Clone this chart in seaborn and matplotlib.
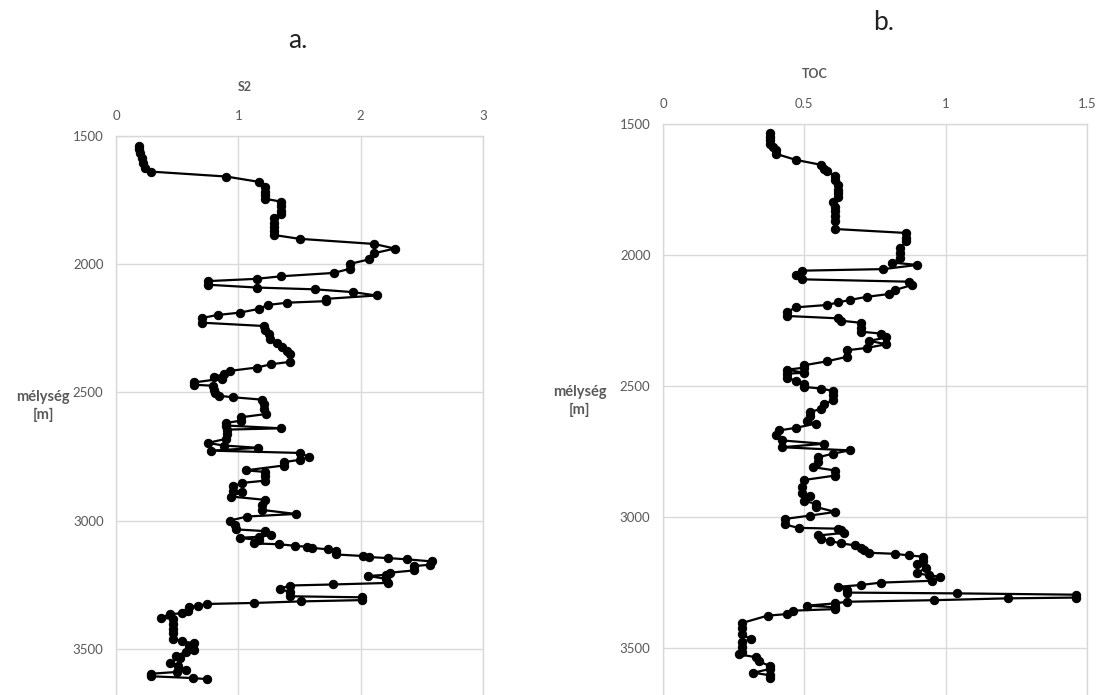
import matplotlib
matplotlib.use("Agg")
import matplotlib.pyplot as plt
import seaborn as sns
import pandas as pd

# ---- data ----
s2_depth = [1538, 1551, 1568, 1587, 1606, 1623, 1639, 1658, 1679, 1697, 1717, 1730, 1745,
            1756, 1773, 1791, 1805, 1821, 1838, 1853, 1870, 1886, 1901, 1921, 1939, 1957,
            1981, 1999, 2018, 2034, 2047, 2057, 2066, 2080, 2091, 2098, 2109, 2122, 2135,
            2144, 2150, 2159, 2174, 2189, 2198, 2210, 2228, 2241, 2256, 2273, 2293, 2306,
            2321, 2338, 2351, 2381, 2390, 2403, 2416, 2429, 2439, 2446, 2461, 2470, 2474,
            2490, 2502, 2513, 2519, 2528, 2545, 2565, 2584, 2597, 2610, 2619, 2629, 2640,
            2645, 2662, 2681, 2697, 2707, 2716, 2727, 2736, 2752, 2763, 2772, 2785, 2804,
            2810, 2827, 2844, 2853, 2866, 2883, 2888, 2906, 2919, 2938, 2958, 2974, 2984,
            3000, 3017, 3034, 3041, 3056, 3063, 3067, 3076, 3089, 3092, 3098, 3102, 3106,
            3112, 3119, 3132, 3138, 3142, 3146, 3151, 3159, 3172, 3177, 3194, 3203, 3211,
            3216, 3227, 3243, 3249, 3253, 3266, 3279, 3295, 3299, 3310, 3315, 3321, 3325,
            3332, 3338, 3352, 3361, 3365, 3378, 3384, 3404, 3421, 3437, 3461, 3470, 3479,
            3489, 3503, 3513, 3526, 3535, 3555, 3565, 3584, 3590, 3597, 3607, 3614, 3618]
s2_values = [0.19, 0.19, 0.20, 0.21, 0.22, 0.24, 0.29, 0.90, 1.17, 1.22, 1.22, 1.22, 1.22,
             1.35, 1.35, 1.35, 1.35, 1.29, 1.29, 1.29, 1.29, 1.29, 1.50, 2.11, 2.28, 2.11,
             2.07, 1.91, 1.91, 1.78, 1.35, 1.15, 0.75, 0.75, 1.15, 1.63, 1.94, 2.13, 1.72,
             1.72, 1.40, 1.24, 1.17, 1.01, 0.83, 0.70, 0.70, 1.21, 1.22, 1.25, 1.26, 1.32,
             1.36, 1.40, 1.42, 1.42, 1.27, 1.15, 0.93, 0.88, 0.80, 0.87, 0.64, 0.64, 0.79,
             0.80, 0.81, 0.84, 0.96, 1.19, 1.21, 1.21, 1.23, 1.02, 1.02, 0.90, 0.90, 1.35,
             0.91, 0.91, 0.90, 0.75, 0.88, 1.16, 0.78, 1.50, 1.58, 1.50, 1.37, 1.37, 1.06,
             1.22, 1.22, 1.22, 1.03, 0.96, 0.96, 1.03, 0.94, 1.22, 1.19, 1.19, 1.47, 1.07,
             0.93, 0.97, 0.98, 1.22, 1.27, 1.17, 1.01, 1.17, 1.13, 1.33, 1.46, 1.56, 1.60,
             1.73, 1.80, 1.80, 2.02, 2.07, 2.22, 2.38, 2.58, 2.57, 2.44, 2.44, 2.24, 2.21,
             2.06, 2.21, 2.22, 1.77, 1.42, 1.34, 1.42, 1.42, 2.01, 2.01, 1.51, 1.13, 0.74,
             0.67, 0.60, 0.59, 0.54, 0.44, 0.37, 0.47, 0.47, 0.47, 0.47, 0.47, 0.54, 0.64,
             0.60, 0.64, 0.57, 0.49, 0.52, 0.44, 0.51, 0.57, 0.50, 0.29, 0.29, 0.63, 0.74]

toc_depth = [1536, 1548, 1561, 1576, 1586, 1599, 1614, 1637, 1656, 1673, 1681, 1698, 1713,
             1732, 1751, 1764, 1779, 1796, 1815, 1834, 1853, 1872, 1901, 1916, 1935, 1948,
             1973, 1992, 2013, 2029, 2038, 2054, 2060, 2077, 2093, 2102, 2115, 2134, 2149,
             2160, 2172, 2181, 2191, 2200, 2217, 2233, 2242, 2251, 2259, 2277, 2293, 2300,
             2315, 2328, 2341, 2355, 2364, 2389, 2406, 2421, 2430, 2438, 2450, 2453, 2468,
             2481, 2491, 2504, 2510, 2519, 2536, 2555, 2570, 2587, 2600, 2616, 2634, 2644,
             2660, 2670, 2689, 2708, 2721, 2734, 2746, 2759, 2772, 2791, 2810, 2823, 2842,
             2859, 2884, 2909, 2919, 2940, 2949, 2962, 2981, 2995, 3008, 3029, 3042, 3045,
             3051, 3061, 3071, 3084, 3092, 3101, 3109, 3118, 3127, 3137, 3141, 3147, 3152,
             3168, 3181, 3194, 3215, 3223, 3228, 3244, 3251, 3260, 3267, 3278, 3289, 3292,
             3297, 3308, 3311, 3318, 3324, 3330, 3339, 3345, 3352, 3358, 3371, 3377, 3405,
             3425, 3447, 3468, 3476, 3498, 3517, 3525, 3536, 3552, 3570, 3580, 3595, 3605,
             3615]
toc_values = [0.38, 0.38, 0.38, 0.38, 0.39, 0.40, 0.40, 0.47, 0.56, 0.57, 0.58, 0.61, 0.61,
              0.62, 0.62, 0.62, 0.62, 0.60, 0.61, 0.61, 0.61, 0.61, 0.61, 0.86, 0.86, 0.86,
              0.84, 0.84, 0.84, 0.81, 0.90, 0.78, 0.49, 0.47, 0.49, 0.87, 0.88, 0.82, 0.80,
              0.72, 0.66, 0.62, 0.58, 0.47, 0.44, 0.44, 0.62, 0.63, 0.70, 0.70, 0.70, 0.77,
              0.79, 0.73, 0.79, 0.72, 0.65, 0.65, 0.58, 0.50, 0.50, 0.44, 0.50, 0.44, 0.44,
              0.47, 0.50, 0.50, 0.56, 0.60, 0.60, 0.60, 0.57, 0.56, 0.52, 0.52, 0.51, 0.54,
              0.47, 0.41, 0.40, 0.42, 0.57, 0.42, 0.66, 0.60, 0.55, 0.55, 0.53, 0.61, 0.61,
              0.50, 0.49, 0.49, 0.52, 0.50, 0.54, 0.54, 0.61, 0.52, 0.43, 0.43, 0.48, 0.62,
              0.63, 0.64, 0.55, 0.56, 0.59, 0.63, 0.68, 0.70, 0.71, 0.73, 0.82, 0.87, 0.92,
              0.92, 0.90, 0.93, 0.90, 0.94, 0.98, 0.95, 0.77, 0.70, 0.62, 0.65, 0.65, 1.04,
              1.46, 1.46, 1.22, 0.96, 0.65, 0.61, 0.51, 0.61, 0.61, 0.46, 0.44, 0.37, 0.28,
              0.28, 0.28, 0.31, 0.28, 0.28, 0.28, 0.27, 0.33, 0.34, 0.38, 0.38, 0.32, 0.38,
              0.38]

s2_ticks = [0, 1, 2, 3]
s2_ticklabels = ["0", "1", "2", "3"]
toc_ticks = [0, 0.5, 1, 1.5]
toc_ticklabels = ["0", "0.5", "1", "1.5"]
depth_ticks = [1500, 2000, 2500, 3000, 3500]

# ---- style ----
sns.set_style("white")
plt.rcParams["font.family"] = ["Lato", "DejaVu Sans"]

W, H = 1096, 695
fig = plt.figure(figsize=(W / 100, H / 100), dpi=100)
grey = "#595959"
gridc = "#d9d9d9"


def px_axes(x0, y0, x1, y1):
    return fig.add_axes([x0 / W, 1 - y1 / H, (x1 - x0) / W, (y1 - y0) / H])


ax1 = px_axes(116, 136, 483, 695)
ax2 = px_axes(663, 124, 1087, 695)

df1 = pd.DataFrame({"S2": s2_values, "depth": s2_depth})
df2 = pd.DataFrame({"TOC": toc_values, "depth": toc_depth})

line_kw = dict(sort=False, estimator=None, marker="o", color="black",
               markersize=6, markeredgecolor="black", linewidth=1.6)
sns.lineplot(data=df1, x="S2", y="depth", ax=ax1, **line_kw)
sns.lineplot(data=df2, x="TOC", y="depth", ax=ax2, **line_kw)

for ax, xt, xtl, xmax in [(ax1, s2_ticks, s2_ticklabels, 3), (ax2, toc_ticks, toc_ticklabels, 1.5)]:
    ax.set_xlim(0, xmax)
    ax.set_ylim(3680, 1500)
    ax.set_xticks(xt)
    ax.set_xticklabels(xtl)
    ax.set_yticks(depth_ticks)
    ax.set_yticklabels([str(d) for d in depth_ticks])
    ax.xaxis.tick_top()
    ax.tick_params(axis="x", which="both", length=0, pad=10, labelsize=9.5, labelcolor=grey)
    ax.tick_params(axis="y", which="both", length=0, pad=9, labelsize=9.5, labelcolor=grey)
    ax.grid(True, color=gridc, linewidth=1)
    ax.set_axisbelow(True)
    for side in ["top", "left", "right"]:
        ax.spines[side].set_visible(True)
        ax.spines[side].set_color(gridc)
        ax.spines[side].set_linewidth(1)
    ax.spines["bottom"].set_visible(False)
    ax.set_xlabel("")
    ax.set_ylabel("")


def ftext(x, y, s, **kw):
    fig.text(x / W, 1 - y / H, s, ha="center", va="center", **kw)


ftext(298, 40, "a.", fontsize=19, color="#222222")
ftext(884, 22, "b.", fontsize=19, color="#222222")
ftext(245, 87, "S2", fontsize=9, color=grey, fontweight="bold")
ftext(815, 74, "TOC", fontsize=9, color=grey, fontweight="bold")
ftext(43, 406, "mélység\n[m]", fontsize=10.5, color=grey, fontweight="bold", linespacing=1.4)
ftext(580, 401, "mélység\n[m]", fontsize=10.5, color=grey, fontweight="bold", linespacing=1.4)

fig.savefig("out.png", dpi=100)
